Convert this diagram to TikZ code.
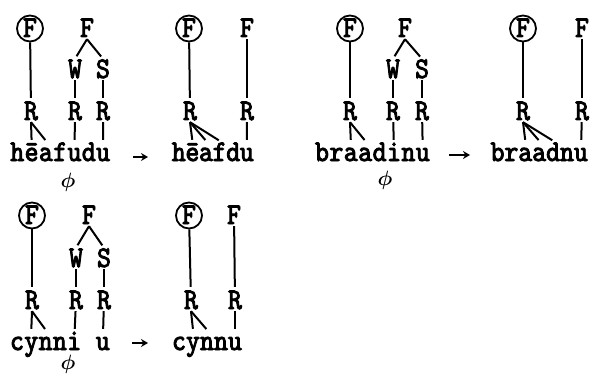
\documentclass[tikz,border=0pt]{standalone}
\usepackage{fontspec}
\usepackage{amsmath}
\usetikzlibrary{arrows.meta}
\newfontfamily\tw[FakeBold=3,FakeStretch=0.88]{lmmono10-regular.otf}
\begin{document}
\begin{tikzpicture}[x=1pt,y=-1pt,
  lab/.style={font=\tw\fontsize{30}{30}\selectfont,inner sep=2pt,text height=17pt,text depth=0pt,anchor=base},
  seg/.style={lab,text height=18pt},
  circ/.style={lab,circle,draw,line width=1.8pt,inner sep=0pt,minimum size=26pt},
  zero/.style={font=\huge,inner sep=0pt,anchor=north},
  ln/.style={line width=2pt,shorten >=3pt},
  leg/.style={line width=2pt,shorten >=1pt},
  arr/.style={-{Stealth[length=7pt,width=8pt]},line width=2pt}]
\useasboundingbox (0,0) rectangle (593,374);

% heafudu
\node[circ] (ca) at (30,37) {F};
\node[lab] (ra1) at (31,120) {R};
\node[lab] (fa) at (87,37) {F};
\node[lab] (wa) at (75,78) {W};
\node[lab] (sa) at (103,78) {S};
\node[lab] (ra2) at (75,120) {R};
\node[lab] (ra3) at (103,120) {R};
\foreach \c [count=\i] in {h,ē,a,f,u,d,u}{
\path (3+\i*14.3,161) node[seg] (ha\i) {\c};
}
\node[zero] (za) at (68,173) {$\boldsymbol{\phi}$};

\draw[ln] (ca) -- (ra1);
\draw[ln] (fa.south) -- (wa.north);
\draw[ln] (fa.south) -- (sa.north);
\draw[ln] (wa) -- (ra2);
\draw[ln] (sa) -- (ra3);
\foreach \j in {2,3}{
\draw[leg] (ra1.south) -- (ha\j.north);
}
\draw[leg] (ra2) -- (ha5);
\draw[leg] (ra3) -- (ha7);

\coordinate (a1s) at (133,157);
\coordinate (a1e) at (148,157);
\draw[arr] (a1s) -- (a1e);

% heafdu
\node[circ] (cb) at (189,37) {F};
\node[lab] (rb1) at (190,120) {R};
\node[lab] (fb) at (247,37) {F};
\node[lab] (rb2) at (247,120) {R};
\foreach \c [count=\i] in {h,ē,a,f,d,u}{
\path (165.2+\i*13.6,161) node[seg] (hb\i) {\c};
}
\draw[ln] (cb) -- (rb1);
\draw[ln] (fb) -- (rb2);
\foreach \j in {2,3,4}{
\draw[leg] (rb1.south) -- (hb\j.north);
}
\draw[leg] (rb2) -- (hb6);

% braadinu
\node[circ] (cc) at (350,37) {F};
\node[lab] (rc1) at (350,120) {R};
\node[lab] (fc) at (405,37) {F};
\node[lab] (wc) at (393,78) {W};
\node[lab] (sc) at (422,78) {S};
\node[lab] (rc2) at (393,120) {R};
\node[lab] (rc3) at (422,120) {R};
\foreach \c [count=\i] in {b,r,a,a,d,i,n,u}{
\path (307.6+\i*14.4,161) node[seg] (bc\i) {\c};
}
\node[zero] (zc) at (385,171) {$\boldsymbol{\phi}$};

\draw[ln] (cc) -- (rc1);
\draw[ln] (fc.south) -- (wc.north);
\draw[ln] (fc.south) -- (sc.north);
\draw[ln] (wc) -- (rc2);
\draw[ln] (sc) -- (rc3);
\foreach \j in {3,4}{
\draw[leg] (rc1.south) -- (bc\j.north);
}
\draw[leg] (rc2) -- (bc6);
\draw[leg] (rc3) -- (bc8);

\coordinate (a2s) at (449,155);
\coordinate (a2e) at (470,155);
\draw[arr] (a2s) -- (a2e);

% braadnu
\node[circ] (cd) at (523,37) {F};
\node[lab] (rd1) at (523,120) {R};
\node[lab] (fd) at (582,37) {F};
\node[lab] (rd2) at (582,120) {R};
\foreach \c [count=\i] in {b,r,a,a,d,n,u}{
\path (483.6+\i*13.9,161) node[seg] (bd\i) {\c};
}
\draw[ln] (cd) -- (rd1);
\draw[ln] (fd) -- (rd2);
\foreach \j in {3,4,5}{
\draw[leg] (rd1.south) -- (bd\j.north);
}
\draw[leg] (rd2) -- (bd7);

% cynni u
\node[circ] (ce) at (32,224) {F};
\node[lab] (re1) at (32,309) {R};
\node[lab] (fe) at (89,224) {F};
\node[lab] (we) at (76,267) {W};
\node[lab] (se) at (104,267) {S};
\node[lab] (re2) at (76,309) {R};
\node[lab] (re3) at (104,309) {R};
\foreach \c/\i in {c/1,y/2,n/3,n/4,i/5,u/7}{
\path (2.7+\i*14.3,350) node[seg] (ce\i) {\c};
}
\node[zero] (ze) at (68,355) {$\boldsymbol{\phi}$};

\draw[ln] (ce) -- (re1);
\draw[ln] (fe.south) -- (we.north);
\draw[ln] (fe.south) -- (se.north);
\draw[ln] (we) -- (re2);
\draw[ln] (se) -- (re3);
\foreach \j in {2,3}{
\draw[leg] (re1.south) -- (ce\j.north);
}
\draw[leg] (re2) -- (ce5);
\draw[leg] (re3) -- (ce7);

\coordinate (a3s) at (132,343);
\coordinate (a3e) at (148,343);
\draw[arr] (a3s) -- (a3e);

% cynnu
\node[circ] (cf) at (189,224) {F};
\node[lab] (rf1) at (191,309) {R};
\node[lab] (ff) at (234,224) {F};
\node[lab] (rf2) at (235,309) {R};
\foreach \c [count=\i] in {c,y,n,n,u}{
\path (165+\i*14,350) node[seg] (cf\i) {\c};
}
\draw[ln] (cf) -- (rf1);
\draw[ln] (ff) -- (rf2);
\foreach \j in {2,3}{
\draw[leg] (rf1.south) -- (cf\j.north);
}
\draw[leg] (rf2) -- (cf5);

\end{tikzpicture}
\end{document}
